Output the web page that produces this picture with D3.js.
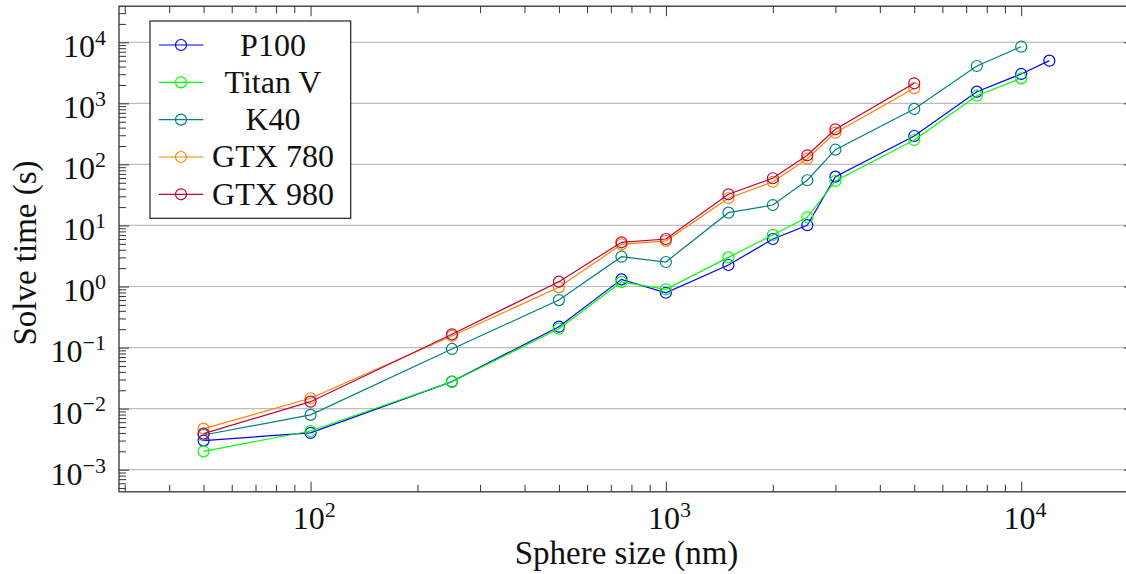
<!DOCTYPE html>
<html>
<head>
<meta charset="utf-8">
<script src="https://cdn.jsdelivr.net/npm/d3@7"></script>
<style>
  body { margin: 0; background: #fff; }
  svg { display: block; font-family: "Liberation Serif", "DejaVu Serif", serif; }
  svg text { font-family: "Liberation Serif", "DejaVu Serif", serif; }
</style>
</head>
<body>
<svg id="chart" width="1126" height="574"></svg>
<script>
// sphere sizes (nm)
const sizes = [50, 100, 250, 500, 750, 1000, 1500, 2000, 2500, 3000, 5000, 7500, 10000, 12000];

// solve times (s)
const p100   = [0.0030, 0.0040, 0.0277, 0.22, 1.31, 0.79, 2.25, 6.0, 10.1, 63, 292, 1553, 3030, 5000];
const titanV = [0.0020, 0.0043, 0.0275, 0.204, 1.19, 0.90, 3.0, 7.0, 13.6, 53.5, 251, 1334, 2570];
const k40    = [0.0037, 0.0079, 0.095, 0.60, 3.08, 2.52, 16.2, 21.6, 55, 174, 810, 4090, 8470];
const gtx780 = [0.0047, 0.0148, 0.155, 0.97, 4.9, 5.6, 27.9, 52, 124, 331, 1770];
const gtx980 = [0.0039, 0.0130, 0.165, 1.20, 5.3, 6.0, 32.4, 59.3, 141, 376, 2130];

const seriesNames  = ["P100", "Titan V", "K40", "GTX 780", "GTX 980"];
const seriesValues = [p100, titanV, k40, gtx780, gtx980];
const seriesColors = ["#0000ff", "#00ff00", "#008080", "#ff8000", "#bf0040"];

const xMajorExp = [2, 3, 4];
const yMajorExp = [-3, -2, -1, 0, 1, 2, 3, 4];

const svg = d3.select("#chart");

// plot box (right side runs past the picture edge, as in the reference)
const plot = {left: 119, right: 1134, top: 6.2, bottom: 491.8};

const x = d3.scaleLog().domain([Math.pow(10, 1.46095), Math.pow(10, 4.3174)]).range([plot.left, plot.right]);
const y = d3.scaleLog().domain([Math.pow(10, -3.362), Math.pow(10, 4.591)]).range([plot.bottom, plot.top]);

const xMajor = xMajorExp.map(e => Math.pow(10, e));
const yMajor = yMajorExp.map(e => Math.pow(10, e));

// minor ticks 2..9 of each decade inside the domain
function minorTicks(scale) {
    const [lo, hi] = scale.domain();
    const out = [];
    for (let e = Math.floor(Math.log10(lo)); e <= Math.ceil(Math.log10(hi)); e++) {
        for (let m = 2; m <= 9; m++) {
            const v = m * Math.pow(10, e);
            if (v >= lo && v <= hi) out.push(v);
        }
    }
    return out;
}
const xMinor = minorTicks(x);
const yMinor = minorTicks(y);

// --- grid ---
svg.append("g")
    .selectAll("line")
    .data(yMajor)
    .join("line")
    .attr("x1", plot.left).attr("x2", plot.right)
    .attr("y1", d => y(d)).attr("y2", d => y(d))
    .attr("stroke", "#bdbdbd")
    .attr("stroke-width", 1.2);

// --- axes ---
const axisColor = "#333";
function styleAxis(g) {
    g.attr("font-family", null).attr("font-size", null);
    g.select(".domain").remove();
    g.selectAll(".tick line").attr("stroke", axisColor).attr("stroke-width", 1);
}

function supLabels(g, exps) {
    g.selectAll(".tick text").each(function(d, i) {
        const t = d3.select(this);
        t.text(null).attr("fill", "#111").style("font-size", "32px");
        t.append("tspan").text("10");
        const e = exps[i];
        t.append("tspan")
            .attr("dy", "-0.55em")
            .style("font-size", "22px")
            .text(e < 0 ? "\u2212" + Math.abs(e) : String(e));
    });
}

// bottom
const gxb = svg.append("g").attr("transform", `translate(0,${plot.bottom})`)
    .call(d3.axisBottom(x).tickValues(xMajor).tickSize(-10).tickFormat(() => ""));
styleAxis(gxb);
supLabels(gxb, xMajorExp);
gxb.selectAll(".tick text").attr("dy", "0").attr("y", 37).attr("dx", "0.1em");

svg.append("g").attr("transform", `translate(0,${plot.bottom})`)
    .call(d3.axisBottom(x).tickValues(xMinor).tickSize(-7).tickFormat(() => ""))
    .call(styleAxis);

// top
svg.append("g").attr("transform", `translate(0,${plot.top})`)
    .call(d3.axisTop(x).tickValues(xMajor).tickSize(-10).tickFormat(() => ""))
    .call(styleAxis);
svg.append("g").attr("transform", `translate(0,${plot.top})`)
    .call(d3.axisTop(x).tickValues(xMinor).tickSize(-7).tickFormat(() => ""))
    .call(styleAxis);

// left
const gyl = svg.append("g").attr("transform", `translate(${plot.left},0)`)
    .call(d3.axisLeft(y).tickValues(yMajor).tickSize(-10).tickPadding(13).tickFormat(() => ""));
styleAxis(gyl);
supLabels(gyl, yMajorExp);
gyl.selectAll(".tick text").attr("dy", "0.45em");

svg.append("g").attr("transform", `translate(${plot.left},0)`)
    .call(d3.axisLeft(y).tickValues(yMinor).tickSize(-7).tickFormat(() => ""))
    .call(styleAxis);

// right
svg.append("g").attr("transform", `translate(${plot.right},0)`)
    .call(d3.axisRight(y).tickValues(yMajor).tickSize(-10).tickFormat(() => ""))
    .call(styleAxis);
svg.append("g").attr("transform", `translate(${plot.right},0)`)
    .call(d3.axisRight(y).tickValues(yMinor).tickSize(-7).tickFormat(() => ""))
    .call(styleAxis);

// frame
svg.append("rect")
    .attr("x", plot.left).attr("y", plot.top)
    .attr("width", plot.right - plot.left).attr("height", plot.bottom - plot.top)
    .attr("fill", "none").attr("stroke", axisColor).attr("stroke-width", 1.3);

// --- series ---
const line = d3.line().x(d => x(d[0])).y(d => y(d[1]));

seriesValues.forEach((vals, i) => {
    const pts = vals.map((v, j) => [sizes[j], v]);
    const g = svg.append("g");
    g.append("path")
        .datum(pts)
        .attr("fill", "none")
        .attr("stroke", seriesColors[i])
        .attr("stroke-width", 1.2)
        .attr("d", line);
    g.selectAll("circle")
        .data(pts)
        .join("circle")
        .attr("cx", d => x(d[0]))
        .attr("cy", d => y(d[1]))
        .attr("r", 5.5)
        .attr("fill", "none")
        .attr("stroke", seriesColors[i])
        .attr("stroke-width", 1.2);
});

// --- axis titles ---
svg.append("text")
    .attr("x", (plot.left + plot.right) / 2)
    .attr("y", 564)
    .attr("text-anchor", "middle")
    .style("font-size", "33px")
    .attr("fill", "#111")
    .text("Sphere size (nm)");

svg.append("text")
    .attr("transform", `translate(36,${(plot.top + plot.bottom) / 2 + 4}) rotate(-90)`)
    .attr("text-anchor", "middle")
    .style("font-size", "33px")
    .attr("fill", "#111")
    .text("Solve time (s)");

// --- legend ---
const legend = svg.append("g");
legend.append("rect")
    .attr("x", 150).attr("y", 21)
    .attr("width", 200.7).attr("height", 197.3)
    .attr("fill", "#fff").attr("stroke", "#222").attr("stroke-width", 1.2);

const legendRow = d3.scaleLinear().domain([0, seriesNames.length - 1]).range([45, 194.3]);

seriesNames.forEach((name, i) => {
    const cy = legendRow(i);
    legend.append("line")
        .attr("x1", 158.7).attr("x2", 203.3)
        .attr("y1", cy).attr("y2", cy)
        .attr("stroke", seriesColors[i]).attr("stroke-width", 1.2);
    legend.append("circle")
        .attr("cx", 181).attr("cy", cy).attr("r", 5.5)
        .attr("fill", "none").attr("stroke", seriesColors[i]).attr("stroke-width", 1.2);
    legend.append("text")
        .attr("x", 273).attr("y", cy + 10.5)
        .attr("text-anchor", "middle")
        .style("font-size", "32px")
        .attr("fill", "#111")
        .text(name);
});
</script>
</body>
</html>
